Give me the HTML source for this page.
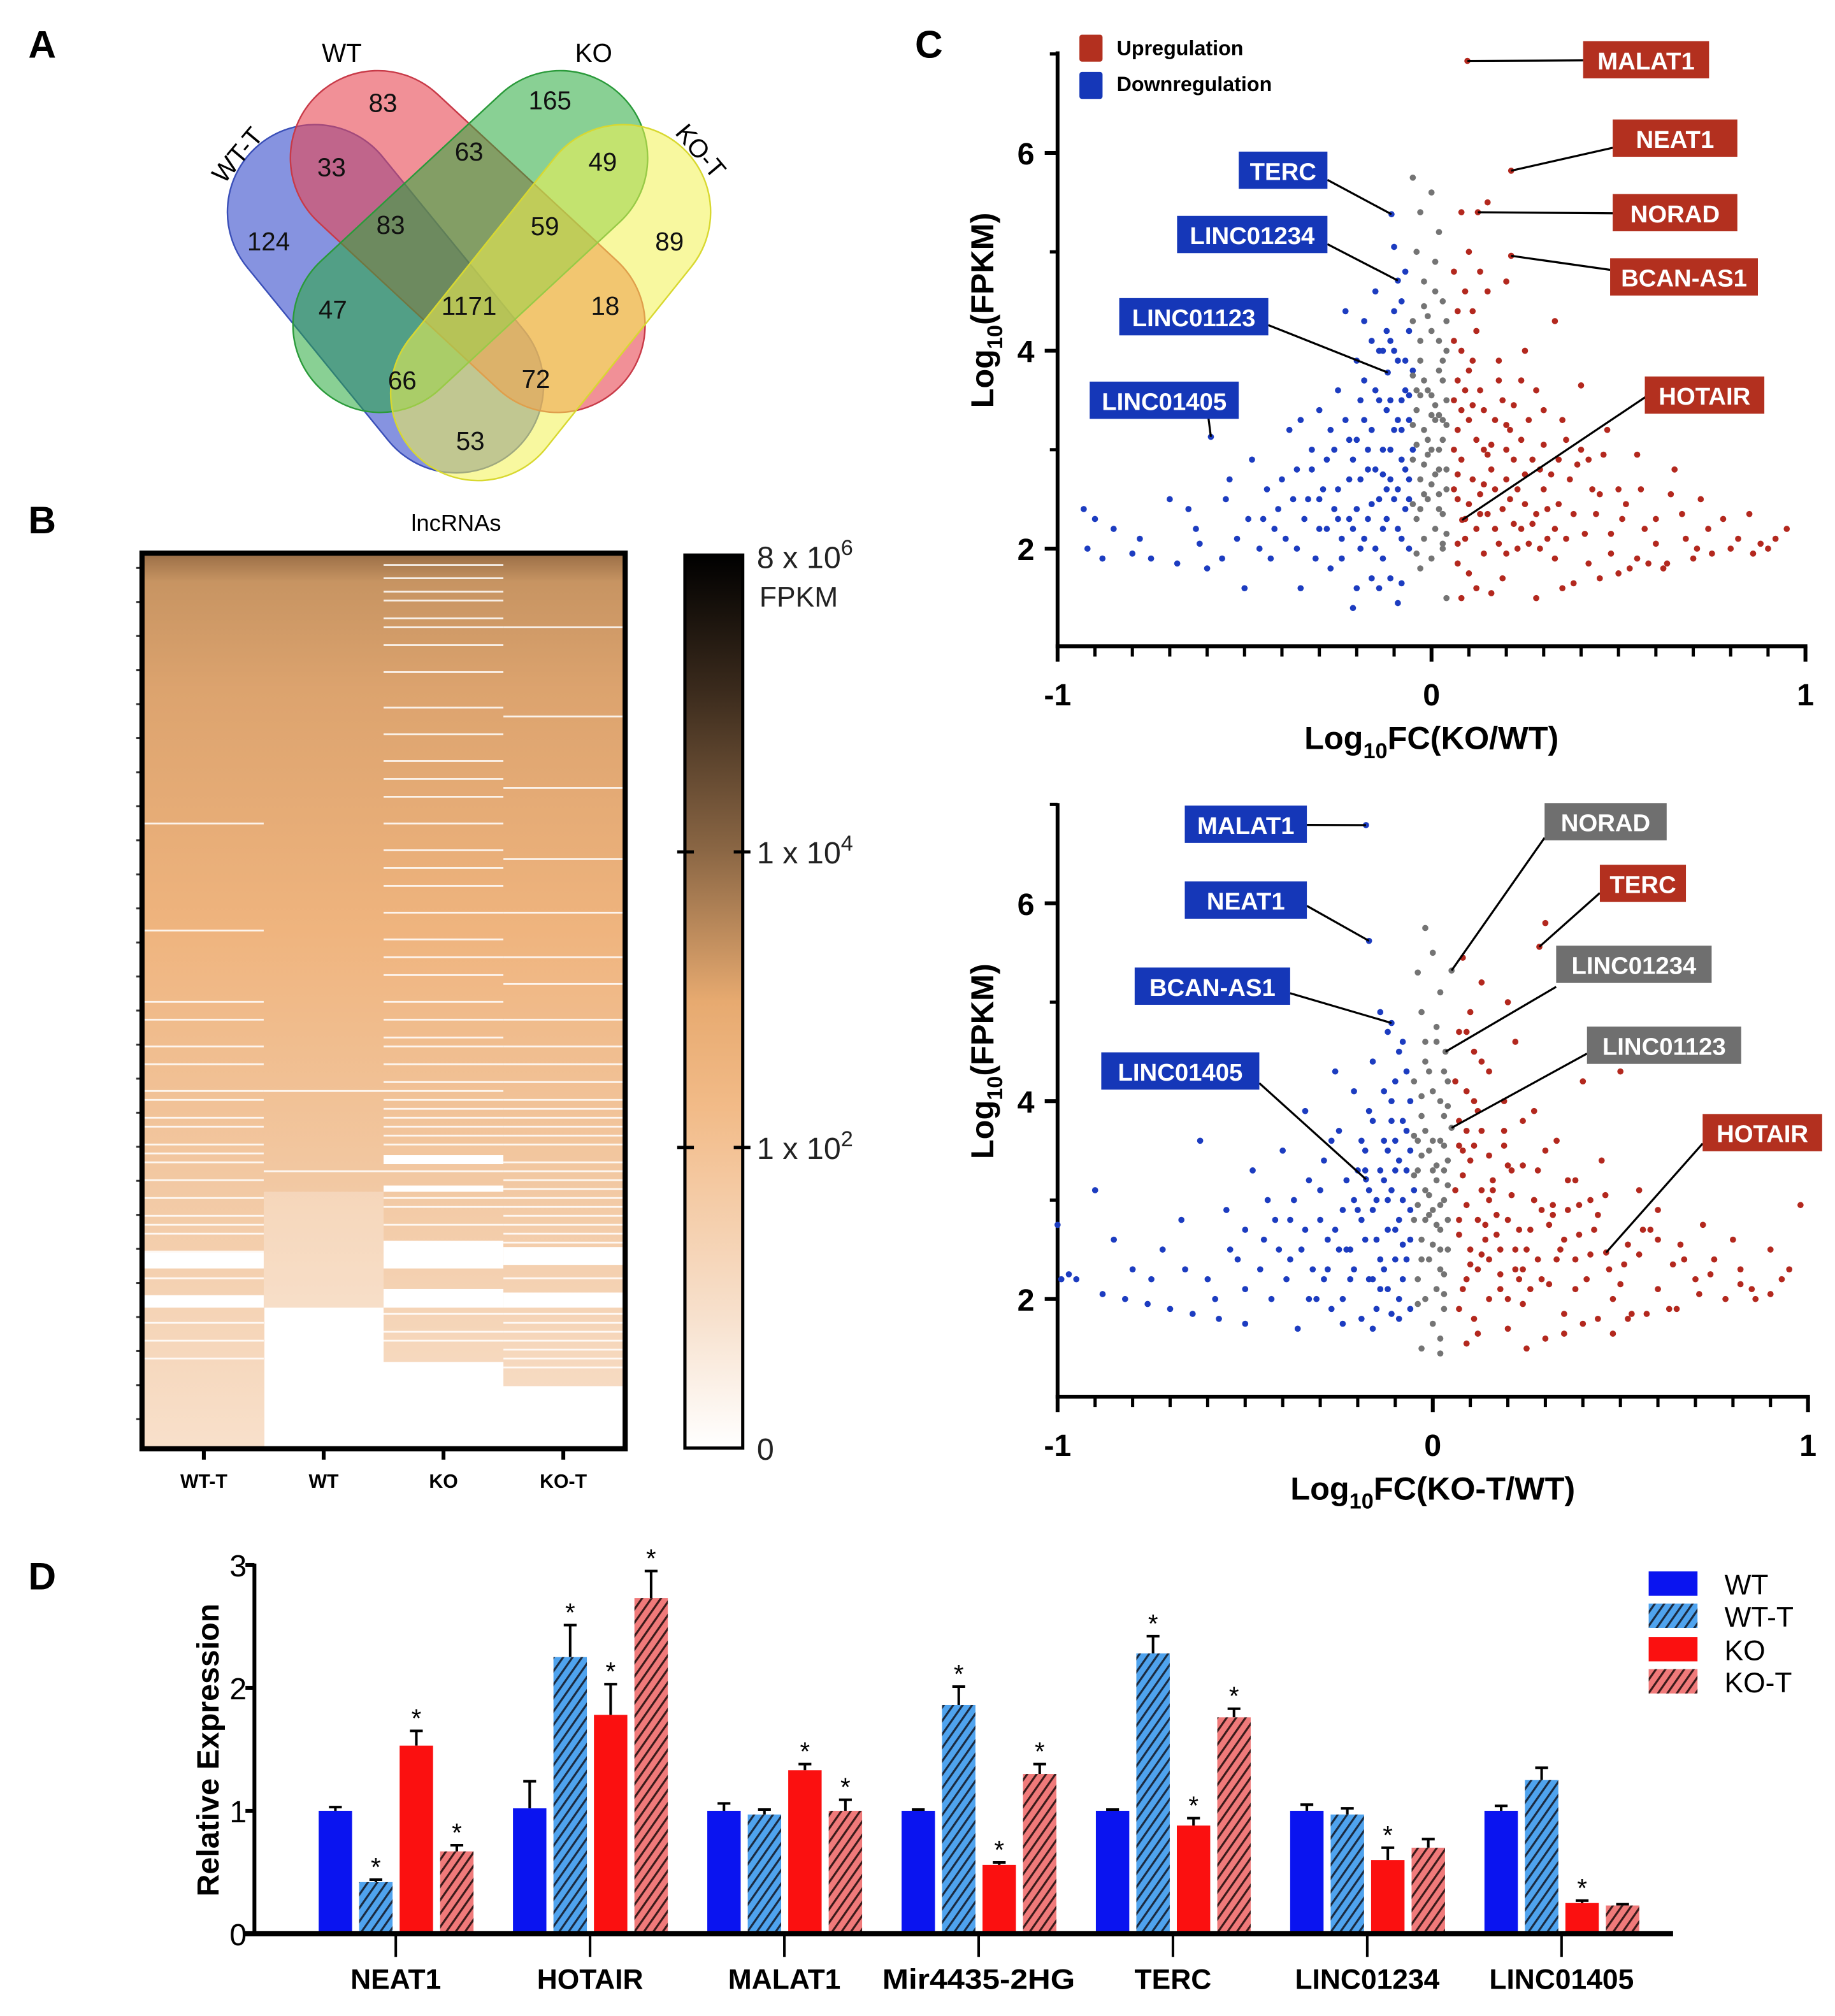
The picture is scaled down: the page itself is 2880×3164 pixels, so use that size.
<!DOCTYPE html>
<html><head><meta charset="utf-8"><style>
html,body{margin:0;padding:0;background:#fff}
svg{display:block}
text{font-family:"Liberation Sans",sans-serif}
</style></head><body>
<svg id="fig" xmlns="http://www.w3.org/2000/svg" width="2880" height="3164" viewBox="0 0 1428 1569" preserveAspectRatio="none">
<defs>
<linearGradient id="hmGrad" gradientUnits="userSpaceOnUse" x1="0" y1="432" x2="0" y2="1126">
<stop offset="0" stop-color="#9c7048"/><stop offset="0.03" stop-color="#c79462"/><stop offset="0.15" stop-color="#dca36e"/><stop offset="0.42" stop-color="#efb47e"/><stop offset="0.7" stop-color="#f2c8a2"/><stop offset="1" stop-color="#f8e0cb"/>
</linearGradient>
<linearGradient id="cbGrad" x1="0" y1="0" x2="0" y2="1">
<stop offset="0" stop-color="#000"/><stop offset="0.15" stop-color="#3a2a1c"/><stop offset="0.33" stop-color="#8a6644"/><stop offset="0.5" stop-color="#e7aa70"/><stop offset="0.62" stop-color="#f2bb88"/><stop offset="0.85" stop-color="#f7e0cc"/><stop offset="1" stop-color="#fff"/>
</linearGradient>
<pattern id="hatchBlue" width="6" height="6" patternUnits="userSpaceOnUse" patternTransform="rotate(35)">
<rect width="6" height="6" fill="#4fa3ee"/><rect width="1.6" height="6" fill="#1a2a40"/></pattern>
<pattern id="hatchRed" width="6" height="6" patternUnits="userSpaceOnUse" patternTransform="rotate(35)">
<rect width="6" height="6" fill="#f07a7a"/><rect width="1.6" height="6" fill="#3a1a1a"/></pattern>
</defs>

<text x="22" y="45" font-size="30" font-weight="bold">A</text>
<text x="22" y="415" font-size="30" font-weight="bold">B</text>
<text x="712" y="45" font-size="30" font-weight="bold">C</text>
<text x="22" y="1237" font-size="30" font-weight="bold">D</text>

<g id="venn"></g>
<g id="heat"></g>
<g id="volc1"></g>
<g id="volc2"></g>
<g id="bars"></g>
</svg>
<script>
// ---------- Venn data ----------
const vennSets = ['WT-T','WT','KO','KO-T'];
const vennCounts = [124,83,165,89,33,63,49,83,59,47,1171,18,66,72,53];
// ---------- Heatmap data ----------
const hmCols = ['WT-T','WT','KO','KO-T'];
const hmEnd = [1.0,0.844,0.905,0.932];
const hmGapsWTT = [0.3,0.42,0.5,0.52,0.55,0.57,0.6,0.61,0.63,0.64,0.66,0.67,0.68,0.7,0.72,0.74,0.75,0.76,0.78,0.81,0.86,0.88,0.9];
const hmGapsWT = [0.6,0.69];
const hmGapsKO = [0.01,0.025,0.04,0.05,0.07,0.08,0.1,0.13,0.17,0.2,0.23,0.25,0.27,0.3,0.33,0.35,0.37,0.4,0.43,0.45,0.47,0.5,0.52,0.54,0.55,0.57,0.59,0.6,0.61,0.62,0.63,0.64,0.65,0.66,0.69,0.72,0.73,0.75,0.85,0.87,0.88];
const hmGapsKOT = [0.08,0.18,0.26,0.34,0.4,0.45,0.48,0.52,0.55,0.57,0.59,0.61,0.62,0.63,0.64,0.65,0.66,0.68,0.69,0.7,0.71,0.72,0.73,0.74,0.75,0.76,0.77,0.81,0.85,0.86,0.87,0.88,0.89,0.9,0.91];
const hmBandsWTT = [[0.782,0.8],[0.83,0.844]];
const hmBandsKO = [[0.673,0.683],[0.707,0.714],[0.769,0.8],[0.823,0.844]];
const hmBandsKOT = [[0.776,0.796],[0.827,0.844]];
const cbTicks = ['8 x 10|6','1 x 10|4','1 x 10|2','0'];
// ---------- Volcano 1 (KO/WT) ----------
const v1Down = [[-0.93,2.4],[-0.92,2.0],[-0.9,2.3],[-0.88,1.9],[-0.85,2.2],[-0.8,1.95],[-0.75,1.9],[-0.7,2.5],[-0.68,1.85],[-0.65,2.4],[-0.62,2.05],[-0.6,1.8],[-0.59,3.13],[-0.55,2.5],[-0.52,2.1],[-0.5,1.6],[-0.48,2.9],[-0.45,2.3],[-0.43,1.9],[-0.4,2.7],[-0.38,3.2],[-0.36,2.0],[-0.35,1.6],[-0.33,2.5],[-0.3,3.4],[-0.3,2.2],[-0.28,2.9],[-0.27,1.8],[-0.25,3.6],[-0.25,2.6],[-0.24,2.1],[-0.22,3.1],[-0.21,1.4],[-0.2,3.9],[-0.2,2.4],[-0.19,2.0],[-0.18,4.3],[-0.18,3.3],[-0.17,2.8],[-0.16,1.7],[-0.15,4.6],[-0.15,3.6],[-0.14,2.5],[-0.13,3.0],[-0.13,1.9],[-0.12,4.2],[-0.117,3.78],[-0.11,2.7],[-0.1,5.05],[-0.1,4.0],[-0.1,3.2],[-0.09,2.2],[-0.09,1.45],[-0.08,4.5],[-0.08,3.5],[-0.08,2.9],[-0.07,4.8],[-0.07,3.9],[-0.07,2.4],[-0.06,3.3],[-0.06,2.0],[-0.09,4.71],[-0.23,4.4],[-0.35,3.3],[-0.107,5.38],[-0.26,3.0],[-0.22,2.3],[-0.16,3.2],[-0.12,2.3],[-0.44,2.6],[-0.54,2.7],[-0.32,2.8],[-0.19,3.5],[-0.14,4.0],[-0.11,3.5],[-0.09,2.6],[-0.06,2.7],
[-0.05,3.0],[-0.06,2.5],[-0.07,3.6],[-0.08,2.1],[-0.09,3.3],[-0.1,2.5],[-0.1,4.4],[-0.11,3.0],[-0.12,2.6],[-0.12,3.4],[-0.13,4.0],[-0.13,2.2],[-0.14,3.5],[-0.15,2.8],[-0.15,2.0],[-0.16,4.1],[-0.17,3.0],[-0.17,2.3],[-0.18,3.7],[-0.19,2.7],[-0.2,3.1],[-0.21,2.2],[-0.22,2.7],[-0.23,3.3],[-0.24,1.9],[-0.26,2.4],[-0.27,3.2],[-0.28,2.2],[-0.29,2.6],[-0.31,1.9],[-0.32,3.0],[-0.34,2.3],[-0.37,2.5],[-0.39,2.1],[-0.41,2.4],[-0.46,2.0],[-0.49,2.3],[-0.56,1.9],[-0.63,2.2],[-0.78,2.1],[-0.05,3.8],[-0.06,4.2],[-0.08,3.2],[-0.11,1.7],[-0.2,1.6],[-0.14,1.6],[-0.08,1.65],[-0.06,3.55],[-0.07,2.8],[-0.09,3.9],[-0.11,4.1],[-0.13,2.75],[-0.16,2.45],[-0.18,2.1],[-0.21,2.9],[-0.25,2.3],[-0.3,2.5],[-0.36,2.8],[-0.42,2.2]];
const v1Ns = [[-0.05,5.75],[0,5.6],[-0.03,5.4],[0.02,5.2],[-0.04,5.0],[0.01,4.9],[-0.02,4.7],[0.03,4.5],[-0.05,4.3],[0,4.2],[0.04,4.0],[-0.03,3.9],[0.02,3.8],[-0.01,3.6],[0.04,3.5],[-0.04,3.4],[0.01,3.3],[-0.02,3.2],[0.03,3.1],[0,3.0],[-0.05,2.9],[0.02,2.8],[-0.03,2.7],[0.04,2.6],[-0.01,2.5],[0.02,2.4],[-0.04,2.3],[0.01,2.2],[-0.02,2.1],[0.03,2.0],[0,1.9],[-0.03,1.8],[0.04,1.5],[0.03,3.7],[-0.03,3.55],[0.01,3.45],[-0.01,2.95],[0.03,2.35],[-0.02,4.45],[0.02,4.1],[-0.05,3.75],[0,2.65],[0.04,3.25],[-0.04,3.05],[0.02,3.35],[-0.02,2.55],[0.04,2.15],[-0.05,2.45],
[-0.04,3.6],[0.03,3.3],[-0.01,3.1],[0.01,2.75],[-0.03,2.4],[0.04,2.8],[0.02,3.0],[-0.02,3.7],[0.0,3.55],[0.03,2.05],[-0.04,1.95],[0.01,4.6],[-0.01,4.35],[0.04,4.3],[-0.05,3.25],[0.02,2.55],[-0.02,2.85],[0.0,3.35],[0.03,3.9],[-0.03,4.1]];
const v1Up = [[0.096,6.93],[0.213,5.82],[0.124,5.4],[0.213,4.96],[0.082,2.29],[0.08,5.4],[0.15,5.5],[0.1,5.0],[0.06,4.8],[0.2,4.7],[0.15,4.6],[0.07,4.4],[0.33,4.3],[0.12,4.2],[0.08,4.0],[0.25,4.0],[0.1,3.8],[0.18,3.7],[0.28,3.6],[0.4,3.65],[0.06,3.5],[0.14,3.4],[0.22,3.45],[0.35,3.3],[0.47,3.2],[0.07,3.2],[0.12,3.1],[0.2,3.0],[0.3,3.05],[0.42,2.9],[0.55,2.95],[0.65,2.8],[0.08,2.9],[0.16,2.8],[0.25,2.75],[0.37,2.7],[0.5,2.6],[0.72,2.5],[0.06,2.6],[0.13,2.55],[0.21,2.5],[0.31,2.4],[0.44,2.35],[0.6,2.3],[0.85,2.35],[0.09,2.3],[0.17,2.2],[0.27,2.25],[0.36,2.1],[0.48,2.15],[0.68,2.1],[0.95,2.2],[0.07,2.05],[0.14,1.95],[0.23,2.0],[0.33,1.9],[0.42,1.85],[0.55,1.9],[0.75,1.95],[0.88,2.05],[0.1,1.75],[0.19,1.7],[0.28,1.5],[0.38,1.65],[0.5,1.75],[0.62,1.8],[0.8,2.0],[0.08,1.5],[0.16,1.55],[0.45,1.7],[0.58,1.85],[0.7,1.9],[0.3,2.6],[0.4,3.0],[0.52,2.45],[0.26,3.3],[0.18,3.9],[0.11,4.4],[0.34,2.9],[0.64,2.55],[0.78,2.3],[0.92,2.1],[0.09,3.6],[0.11,2.7],[0.19,2.4],[0.24,3.1],[0.14,3.0],[0.07,2.5],[0.33,2.2],[0.45,2.55],[0.57,2.2],[0.22,2.9],[0.29,2.0],[0.17,3.3],
[0.06,3.0],[0.07,2.75],[0.08,3.4],[0.09,2.1],[0.1,3.3],[0.1,2.45],[0.11,3.9],[0.12,2.2],[0.13,3.6],[0.14,2.65],[0.15,2.35],[0.16,3.05],[0.17,2.6],[0.18,2.05],[0.19,3.5],[0.2,2.7],[0.21,3.2],[0.22,2.25],[0.23,2.6],[0.24,3.7],[0.25,2.45],[0.26,2.05],[0.27,2.9],[0.28,2.35],[0.3,3.4],[0.31,2.1],[0.32,2.75],[0.34,2.45],[0.36,3.1],[0.38,2.35],[0.39,2.85],[0.41,2.15],[0.43,2.6],[0.46,2.95],[0.48,1.95],[0.51,2.3],[0.53,1.8],[0.56,2.6],[0.6,2.05],[0.63,1.85],[0.67,2.35],[0.71,2.0],[0.74,2.2],[0.82,2.1],[0.86,1.95],[0.9,2.0],[0.07,1.85],[0.12,1.6],[0.2,1.95],[0.35,1.6],[0.06,4.1],[0.09,4.6],[0.13,4.8],[0.07,3.7],[0.11,3.45],[0.15,2.95],[0.2,3.25],[0.24,2.2],[0.29,2.8],[0.13,2.35]];
const v1Labels = ['MALAT1','NEAT1','NORAD','BCAN-AS1','HOTAIR','TERC','LINC01234','LINC01123','LINC01405'];
// ---------- Volcano 2 (KO-T/WT) ----------
const v2Down = [[-0.178,6.79],[-0.17,5.62],[-0.11,4.79],[-0.178,3.21],[-1.0,2.75],[-0.99,2.2],[-0.97,2.25],[-0.95,2.2],[-0.9,3.1],[-0.88,2.05],[-0.85,2.6],[-0.82,2.0],[-0.8,2.3],[-0.76,1.95],[-0.72,2.5],[-0.7,1.9],[-0.67,2.8],[-0.64,1.85],[-0.62,3.6],[-0.6,2.2],[-0.57,1.8],[-0.55,2.9],[-0.52,2.4],[-0.5,1.75],[-0.48,3.3],[-0.45,2.6],[-0.43,2.0],[-0.4,3.5],[-0.38,2.8],[-0.36,1.7],[-0.34,3.9],[-0.32,2.3],[-0.3,3.1],[-0.28,2.6],[-0.27,1.9],[-0.25,3.7],[-0.24,2.9],[-0.22,2.2],[-0.21,4.1],[-0.2,3.3],[-0.19,1.8],[-0.18,2.6],[-0.17,3.9],[-0.16,4.4],[-0.15,3.0],[-0.14,2.4],[-0.13,3.6],[-0.12,4.7],[-0.12,2.1],[-0.11,4.0],[-0.1,3.3],[-0.1,2.7],[-0.09,4.5],[-0.09,2.0],[-0.08,3.8],[-0.08,3.0],[-0.07,4.3],[-0.07,2.4],[-0.06,3.5],[-0.06,1.9],[-0.14,4.9],[-0.26,4.3],[-0.44,3.0],[-0.33,2.0],[-0.2,2.9],[-0.11,3.8],[-0.29,3.4],[-0.23,2.5],[-0.16,2.2],[-0.13,3.2],[-0.09,2.8],[-0.07,3.3],[-0.38,2.4],[-0.5,2.7],[-0.18,3.5],
[-0.05,3.1],[-0.06,2.6],[-0.07,3.7],[-0.08,2.2],[-0.09,3.4],[-0.1,2.4],[-0.1,4.2],[-0.11,3.1],[-0.12,2.7],[-0.12,3.5],[-0.13,4.1],[-0.13,2.3],[-0.14,3.3],[-0.15,2.6],[-0.15,1.9],[-0.16,3.8],[-0.17,3.1],[-0.17,2.2],[-0.18,3.3],[-0.19,2.8],[-0.21,3.0],[-0.22,2.5],[-0.23,3.2],[-0.24,2.0],[-0.26,2.7],[-0.27,3.6],[-0.28,2.3],[-0.3,2.8],[-0.31,2.0],[-0.33,3.2],[-0.35,2.5],[-0.37,3.0],[-0.39,2.2],[-0.42,2.8],[-0.46,2.3],[-0.5,2.1],[-0.54,2.5],[-0.58,2.0],[-0.66,2.3],[-0.75,2.2],[-0.06,4.0],[-0.08,4.6],[-0.09,1.8],[-0.16,1.7],[-0.24,1.75],[-0.11,1.85],[-0.06,2.9],[-0.08,2.55],[-0.1,3.6],[-0.12,3.0],[-0.14,2.1],[-0.16,2.9],[-0.19,3.6],[-0.21,2.3],[-0.25,2.5],[-0.29,2.2],[-0.34,2.7],[-0.41,2.5]];
const v2Ns = [[0.05,5.32],[0.034,4.5],[0.05,3.73],[-0.02,5.75],[0,5.5],[-0.04,5.3],[0.02,5.1],[-0.03,4.9],[0.01,4.75],[-0.02,4.6],[0.03,4.3],[-0.05,4.2],[0,4.1],[0.04,3.95],[-0.03,3.85],[0.02,3.6],[-0.01,3.5],[0.04,3.4],[-0.04,3.3],[0.01,3.2],[-0.02,3.1],[0.03,3.0],[0,2.9],[-0.05,2.8],[0.02,2.7],[-0.03,2.6],[0.04,2.5],[-0.01,2.4],[0.02,2.3],[-0.04,2.2],[0.01,2.1],[-0.02,2.0],[0.03,1.9],[0,1.75],[-0.03,1.5],[0.02,1.45],[0.03,3.55],[-0.03,3.45],[0.01,3.35],[-0.01,2.85],[0.03,2.25],[-0.02,4.4],[0.02,4.0],[-0.05,3.65],[0,2.55],[0.04,3.15],[-0.04,2.95],[0.02,1.6],
[-0.04,3.6],[0.03,3.3],[-0.01,3.05],[0.01,2.75],[-0.03,2.4],[0.04,2.8],[0.02,2.95],[-0.02,3.7],[0.0,3.6],[0.03,2.05],[-0.04,1.95],[0.01,4.6],[-0.01,4.3],[0.04,4.2],[-0.05,3.25],[0.02,2.5],[-0.02,2.8],[0.0,3.3],[0.03,3.85],[-0.03,4.05]];
const v2Up = [[0.284,5.56],[0.462,2.47],[0.08,5.45],[0.13,5.2],[0.3,5.8],[0.1,4.9],[0.22,4.6],[0.07,4.7],[0.15,4.3],[0.4,4.2],[0.09,4.1],[0.27,3.9],[0.12,3.9],[0.5,4.3],[0.19,3.7],[0.33,3.6],[0.45,3.4],[0.07,3.55],[0.15,3.45],[0.24,3.35],[0.38,3.2],[0.55,3.1],[0.08,3.25],[0.13,3.1],[0.21,3.05],[0.32,2.95],[0.44,2.85],[0.6,2.9],[0.72,2.75],[0.09,2.95],[0.17,2.85],[0.26,2.7],[0.39,2.65],[0.52,2.55],[0.8,2.6],[0.07,2.65],[0.14,2.6],[0.22,2.5],[0.33,2.4],[0.47,2.3],[0.64,2.35],[0.9,2.5],[0.1,2.35],[0.18,2.25],[0.29,2.2],[0.38,2.1],[0.5,2.15],[0.7,2.2],[0.98,2.95],[0.08,2.1],[0.15,2.0],[0.24,1.95],[0.35,1.85],[0.44,1.8],[0.57,1.85],[0.78,2.0],[0.95,2.3],[0.11,1.8],[0.2,1.7],[0.3,1.6],[0.4,1.75],[0.52,1.8],[0.65,1.9],[0.85,2.1],[0.09,1.55],[0.25,1.5],[0.48,1.65],[0.6,2.6],[0.75,2.4],[0.31,2.75],[0.42,3.0],[0.55,2.45],[0.28,3.3],[0.19,4.0],[0.11,4.5],[0.36,2.9],[0.66,2.55],[0.82,2.3],[0.93,2.2],[0.2,5.0],[0.12,2.8],[0.16,3.2],[0.23,2.2],[0.09,3.7],[0.35,2.6],[0.27,3.0],[0.42,2.45],[0.18,2.5],[0.58,2.7],
[0.06,3.1],[0.07,2.8],[0.08,3.5],[0.09,2.2],[0.1,3.4],[0.1,2.5],[0.11,4.0],[0.12,2.3],[0.13,3.7],[0.14,2.75],[0.15,2.4],[0.16,3.1],[0.17,2.65],[0.18,2.1],[0.19,3.55],[0.2,2.8],[0.21,3.3],[0.22,2.3],[0.23,2.7],[0.24,3.8],[0.25,2.5],[0.26,2.1],[0.27,3.0],[0.28,2.4],[0.3,3.5],[0.31,2.15],[0.32,2.85],[0.34,2.5],[0.36,3.2],[0.38,2.4],[0.39,2.95],[0.41,2.2],[0.43,2.7],[0.46,3.05],[0.48,2.0],[0.51,2.35],[0.53,1.85],[0.56,2.7],[0.6,2.1],[0.63,1.9],[0.67,2.4],[0.71,2.05],[0.74,2.25],[0.82,2.15],[0.86,2.0],[0.9,2.05],[0.07,1.9],[0.12,1.65],[0.2,2.0],[0.35,1.65],[0.06,4.2],[0.09,4.7],[0.13,4.4],[0.07,3.8],[0.11,3.55],[0.15,3.0],[0.2,3.35],[0.24,2.3],[0.29,2.9],[0.13,2.45]];
const v2Labels = ['MALAT1','NEAT1','BCAN-AS1','LINC01405','NORAD','TERC','LINC01234','LINC01123','HOTAIR'];
// ---------- Bar chart data ----------
const barGenes = ['NEAT1','HOTAIR','MALAT1','Mir4435-2HG','TERC','LINC01234','LINC01405'];
const barSeries = ['WT','WT-T','KO','KO-T'];
const valWT  = [1.0,1.02,1.0,1.0,1.0,1.0,1.0];
const valWTT = [0.42,2.25,0.97,1.86,2.28,0.97,1.25];
const valKO  = [1.53,1.78,1.33,0.56,0.88,0.6,0.25];
const valKOT = [0.67,2.73,1.0,1.3,1.76,0.7,0.23];
const errWT  = [0.03,0.22,0.06,0.01,0.01,0.05,0.04];
const errWTT = [0.02,0.26,0.04,0.15,0.14,0.05,0.1];
const errKO  = [0.12,0.25,0.05,0.02,0.06,0.1,0.02];
const errKOT = [0.05,0.22,0.09,0.08,0.07,0.07,0.01];
const starWTT = [1,1,0,1,1,0,0];
const starKO  = [1,1,1,1,1,1,1];
const starKOT = [1,1,1,1,1,0,0];
const barTicks = [0,1,2,3];

const NS='http://www.w3.org/2000/svg';
function mk(tag, attrs, parent, txt){const e=document.createElementNS(NS,tag);for(const k in attrs)e.setAttribute(k,attrs[k]);if(txt!==undefined)e.textContent=txt;parent.appendChild(e);return e;}

// ===== Venn =====
(function(){
  const g=document.getElementById('venn');
  const shapes=[[245,165,355,300,'rgba(60,80,205,0.62)','#3a4fb8'],[294,123,434,253,'rgba(232,70,82,0.6)','#c83a48'],[436,123,296,253,'rgba(40,170,60,0.55)','#2a9a3a'],[485,165,372,306,'rgba(242,242,80,0.55)','#d8d830']];
  const r=68;
  shapes.forEach((s,i)=>{
    const cx=(s[0]+s[2])/2, cy=(s[1]+s[3])/2, L=Math.hypot(s[2]-s[0],s[3]-s[1]);
    const ang=Math.atan2(s[3]-s[1],s[2]-s[0])*180/Math.PI;
    const e=mk('rect',{x:cx-L/2-r,y:cy-r,width:L+2*r,height:2*r,rx:r,ry:r,fill:s[4],stroke:s[5],'stroke-width':1.2,transform:`rotate(${ang} ${cx} ${cy})`},g);
    
    
  });
  const pos=[[209,188],[298,80],[428,78],[521,188],[258,130],[365,118],[469,126],[304,175],[424,176],[259,241],[365,238],[471,238],[313,296],[417,295],[366,343]];
  vennCounts.forEach((c,i)=>{
    const t=mk('text',{x:pos[i][0],y:pos[i][1]+7,'font-size':20,'text-anchor':'middle',fill:'#111'},g,String(c));
    
    
  });
  const lab=[[190,125,-50],[266,48,0],[462,48,0],[540,122,50]];
  vennSets.forEach((s,i)=>{
    const t=mk('text',{x:lab[i][0],y:lab[i][1],'font-size':20,'text-anchor':'middle',transform:`rotate(${lab[i][2]} ${lab[i][0]} ${lab[i][1]})`},g,s);
    
    
  });
})();

// ===== Heatmap =====
(function(){
  const g=document.getElementById('heat');
  const x0=112,y0=432,W=373,H=694,cw=W/4;
  const fy=f=>y0+f*H;
  const gaps=[hmGapsWTT,hmGapsWT,hmGapsKO,hmGapsKOT];
  const bands=[hmBandsWTT,[],hmBandsKO,hmBandsKOT];
  mk('text',{x:355,y:413,'font-size':18,'text-anchor':'middle'},g,'lncRNAs');
  hmCols.forEach((c,i)=>{
    const cx=x0+i*cw;
    const col=mk('rect',{x:cx,y:y0,width:cw+0.5,height:hmEnd[i]*H,fill:'url(#hmGrad)'},g);
    
    
    if(i===1) mk('rect',{x:cx,y:fy(0.714),width:cw,height:fy(hmEnd[1])-fy(0.714),fill:'#fff','fill-opacity':0.25},g);
    gaps[i].forEach(f=>{mk('rect',{x:cx,y:fy(f),width:cw,height:1.4,fill:'#fff','fill-opacity':0.85},g);});
    bands[i].forEach(b=>{mk('rect',{x:cx,y:fy(b[0]),width:cw,height:fy(b[1])-fy(b[0]),fill:'#fff'},g);});
    mk('line',{x1:cx+cw/2,y1:y0+H+2,x2:cx+cw/2,y2:y0+H+10,stroke:'#000','stroke-width':3},g);
    const t=mk('text',{x:cx+cw/2,y:1158,'font-size':15,'font-weight':'bold','text-anchor':'middle'},g,c);
    
    
  });
  for(let k=0;k<26;k++) mk('line',{x1:106,y1:y0+10+k*26.5,x2:110,y2:y0+10+k*26.5,stroke:'#333','stroke-width':1.5},g);
  const b=mk('rect',{x:x0-1.5,y:y0-1.5,width:W+3,height:H+3,fill:'none',stroke:'#000','stroke-width':4},g);
  
  
  const cb=mk('rect',{x:533,y:432,width:45,height:695,fill:'url(#cbGrad)',stroke:'#000','stroke-width':2.5},g);
  
  
  const ty=[432,663,893,1127];
  cbTicks.forEach((s,i)=>{
    if(i===1||i===2){mk('line',{x1:527,y1:ty[i],x2:540,y2:ty[i],stroke:'#000','stroke-width':2.5},g);mk('line',{x1:571,y1:ty[i],x2:584,y2:ty[i],stroke:'#000','stroke-width':2.5},g);}
    const p=s.split('|');
    const t=mk('text',{x:589,y:ty[i]+(i===0?10:9),'font-size':24,fill:'#222'},g);
    
    
    const a=document.createElementNS(NS,'tspan');a.textContent=p[0];t.appendChild(a);
    if(p[1]){const sp=document.createElementNS(NS,'tspan');sp.setAttribute('dy','-10');sp.setAttribute('font-size','17');sp.textContent=p[1];t.appendChild(sp);}
  });
  mk('text',{x:591,y:472,'font-size':22,fill:'#222'},g,'FPKM');
})();

// ===== Volcano =====
function volcano(gid, cfg, down, ns, up, labels, labelCfg, xtitleTail){
  const g=document.getElementById(gid);
  const sx=v=>cfg.x0+(v+1)/2*(cfg.x1-cfg.x0);
  const sy=v=>cfg.y2-(v-2)*cfg.py;
  mk('line',{x1:cfg.x0,y1:cfg.top,x2:cfg.x0,y2:cfg.base,stroke:'#000','stroke-width':3},g);
  mk('line',{x1:cfg.x0-1.5,y1:cfg.base,x2:cfg.x1+1.5,y2:cfg.base,stroke:'#000','stroke-width':3},g);
  [2,4,6].forEach(v=>{mk('line',{x1:cfg.x0-10,y1:sy(v),x2:cfg.x0,y2:sy(v),stroke:'#000','stroke-width':3},g);
    const t=mk('text',{x:cfg.x0-18,y:sy(v)+9,'font-size':24,'font-weight':'bold','text-anchor':'end'},g,String(v));
    });
  [3,5,7].forEach(v=>{mk('line',{x1:cfg.x0-6,y1:sy(v),x2:cfg.x0,y2:sy(v),stroke:'#000','stroke-width':2.5},g);});
  for(let k=0;k<=20;k++){const v=-1+k*0.1;const major=(k%10===0);
    mk('line',{x1:sx(v),y1:cfg.base,x2:sx(v),y2:cfg.base+(major?12:8),stroke:'#000','stroke-width':major?3:2.5},g);}
  [-1,0,1].forEach(v=>{const t=mk('text',{x:sx(v),y:cfg.base+46,'font-size':24,'font-weight':'bold','text-anchor':'middle'},g,String(v));
    });
  const yt=mk('text',{x:0,y:0,'font-size':25,'font-weight':'bold','text-anchor':'middle',transform:`translate(${cfg.x0-50},${(cfg.top+cfg.base)/2-30}) rotate(-90)`},g);
  
  yt.innerHTML='Log<tspan font-size="17" dy="7">10</tspan><tspan dy="-7">(FPKM)</tspan>';
  const xt=mk('text',{x:(cfg.x0+cfg.x1)/2,y:cfg.base+80,'font-size':25,'font-weight':'bold','text-anchor':'middle'},g);
  
  xt.innerHTML='Log<tspan font-size="17" dy="7">10</tspan><tspan dy="-7">'+xtitleTail+'</tspan>';
  const series=[[down,'#1c3cc0','down'],[ns,'#747474','ns'],[up,'#b3281e','up']];
  series.forEach(s=>{s[0].forEach(p=>{
    const c=mk('circle',{cx:sx(p[0]),cy:sy(p[1]),r:2.4,fill:s[1]},g);
    
    
  });});
  labels.forEach((name,i)=>{
    const L=labelCfg[i];
    mk('line',{x1:L.lx,y1:L.ly,x2:sx(L.px),y2:sy(L.py),stroke:'#000','stroke-width':1.6},g);
    const r=mk('rect',{x:L.x,y:L.y,width:L.w,height:29,fill:L.c},g);
    
    const t=mk('text',{x:L.x+L.w/2,y:L.y+22,'font-size':19,'font-weight':'bold',fill:'#fff','text-anchor':'middle'},g,name);
    
  });
}
const RED='#b3301f',BLU='#1537b8',GRY='#6f6f6f';
volcano('volc1',{x0:823,x1:1405,y2:427,py:77,top:40,base:503},v1Down,v1Ns,v1Up,v1Labels,[
 {x:1232,y:32,w:98,c:RED,lx:1232,ly:47,px:0.096,py:6.93},
 {x:1255,y:93,w:97,c:RED,lx:1255,ly:115,px:0.213,py:5.82},
 {x:1255,y:151,w:97,c:RED,lx:1255,ly:166,px:0.124,py:5.4},
 {x:1253,y:201,w:115,c:RED,lx:1253,ly:210,px:0.213,py:4.96},
 {x:1280,y:293,w:93,c:RED,lx:1282,ly:308,px:0.082,py:2.29},
 {x:964,y:118,w:69,c:BLU,lx:1033,ly:140,px:-0.107,py:5.38},
 {x:916,y:168,w:117,c:BLU,lx:1033,ly:190,px:-0.09,py:4.71},
 {x:871,y:232,w:116,c:BLU,lx:987,ly:253,px:-0.117,py:3.78},
 {x:848,y:297,w:116,c:BLU,lx:940,ly:322,px:-0.59,py:3.13}],'FC(KO/WT)');
volcano('volc2',{x0:823,x1:1407,y2:1011,py:77,top:625,base:1087},v2Down,v2Ns,v2Up,v2Labels,[
 {x:922,y:627,w:95,c:BLU,lx:1017,ly:642,px:-0.178,py:6.79},
 {x:922,y:686,w:95,c:BLU,lx:1017,ly:705,px:-0.17,py:5.62},
 {x:883,y:753,w:121,c:BLU,lx:1004,ly:773,px:-0.11,py:4.79},
 {x:857,y:819,w:123,c:BLU,lx:980,ly:843,px:-0.178,py:3.21},
 {x:1202,y:625,w:95,c:GRY,lx:1202,ly:652,px:0.05,py:5.32},
 {x:1245,y:673,w:67,c:RED,lx:1245,ly:695,px:0.284,py:5.56},
 {x:1211,y:736,w:121,c:GRY,lx:1211,ly:768,px:0.034,py:4.5},
 {x:1235,y:799,w:120,c:GRY,lx:1235,ly:820,px:0.05,py:3.73},
 {x:1325,y:867,w:93,c:RED,lx:1325,ly:890,px:0.462,py:2.47}],'FC(KO-T/WT)');
(function(){const g=document.getElementById('volc1');
 const a=mk('rect',{x:840,y:27,width:18,height:21,rx:2,fill:RED},g);
 const b=mk('rect',{x:840,y:56,width:18,height:21,rx:2,fill:BLU},g);
 const t1=mk('text',{x:869,y:43,'font-size':16,'font-weight':'bold'},g,'Upregulation');
 const t2=mk('text',{x:869,y:71,'font-size':16,'font-weight':'bold'},g,'Downregulation');
})();

// ===== Bar chart =====
(function(){
  const g=document.getElementById('bars');
  const y0=1505, py=95.7, ax=198;
  const sy=v=>y0-v*py;
  const gx=i=>308+i*151.2;
  const offs=[-47,-15.5,16,47.5], bw=26;
  const vals=[valWT,valWTT,valKO,valKOT], errs=[errWT,errWTT,errKO,errKOT], stars=[null,starWTT,starKO,starKOT];
  const fills=['#0a14f0','url(#hatchBlue)','#fb1010','url(#hatchRed)'];
  barGenes.forEach((gene,i)=>{
    vals.forEach((arr,s)=>{
      const v=arr[i], x=gx(i)+offs[s]-bw/2;
      const top=sy(v+errs[s][i]);
      mk('line',{x1:x+bw/2,y1:sy(v),x2:x+bw/2,y2:top,stroke:'#000','stroke-width':2},g);
      mk('line',{x1:x+bw/2-5,y1:top,x2:x+bw/2+5,y2:top,stroke:'#000','stroke-width':2},g);
      const r=mk('rect',{x:x,y:sy(v),width:bw,height:v*py,fill:fills[s]},g);
      
      
      if(stars[s]&&stars[s][i]){const t=mk('text',{x:x+bw/2,y:top-3,'font-size':20,'text-anchor':'middle'},g,'*');
        }
    });
    mk('line',{x1:gx(i),y1:y0,x2:gx(i),y2:y0+18,stroke:'#000','stroke-width':2},g);
    const attrs={x:gx(i),y:1548,'font-size':22,'font-weight':'bold','text-anchor':'middle'};
    if(gene.length>10){attrs.textLength=150;attrs.lengthAdjust='spacingAndGlyphs';}
    const t=mk('text',attrs,g,gene);
    
  });
  mk('line',{x1:ax,y1:sy(3)-1,x2:ax,y2:y0,stroke:'#000','stroke-width':3},g);
  mk('line',{x1:ax-8,y1:y0,x2:1302,y2:y0,stroke:'#000','stroke-width':4},g);
  barTicks.forEach(v=>{mk('line',{x1:ax-7,y1:sy(v),x2:ax,y2:sy(v),stroke:'#000','stroke-width':3},g);
    const t=mk('text',{x:ax-6,y:sy(v)+9,'font-size':24,'text-anchor':'end'},g,String(v));
    });
  const yt=mk('text',{x:0,y:0,'font-size':24,'font-weight':'bold','text-anchor':'middle',transform:'translate(170,1362) rotate(-90)'},g,'Relative Expression');
  
  const ly=[1223,1248,1274,1299];
  barSeries.forEach((s,i)=>{
    const r=mk('rect',{x:1283,y:ly[i],width:38,height:19,fill:fills[i]},g);
    
    const t=mk('text',{x:1342,y:ly[i]+18,'font-size':22},g,s);
    
  });
})();
</script>
</body></html>
